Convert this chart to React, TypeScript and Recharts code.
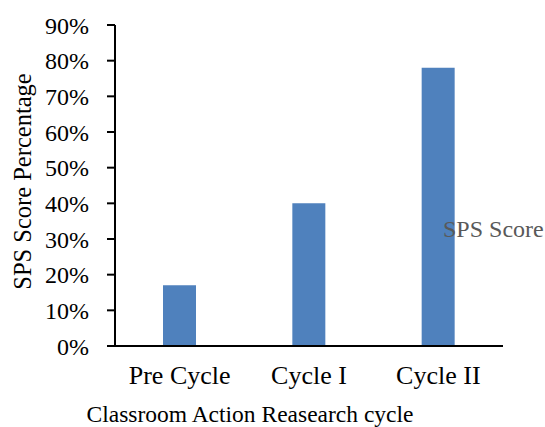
import React from 'react';
import { Bar, BarChart, Legend, XAxis, YAxis } from 'recharts';

const categories = ['Pre Cycle', 'Cycle I', 'Cycle II'];
const spsScore = [17, 40, 78];
const yTicks = [0, 10, 20, 30, 40, 50, 60, 70, 80, 90];

const data = categories.map((name, i) => ({ name, score: spsScore[i] }));

const FONT = '"Liberation Serif", "Times New Roman", serif';

function LegendText() {
  return (
    <span style={{ fontFamily: FONT, fontSize: 24, color: '#595959', lineHeight: '28px' }}>
      SPS Score
    </span>
  );
}

export default function App() {
  return (
    <div style={{ position: 'absolute', left: 0, top: 0, background: '#fff' }}>
      <BarChart
        width={545}
        height={427}
        data={data}
        margin={{ top: 25, right: 42, bottom: 0, left: 0 }}
        barSize={33}
      >
        <XAxis
          dataKey="name"
          height={81}
          tickLine={false}
          tickSize={0}
          tickMargin={20}
          axisLine={{ stroke: '#000', strokeWidth: 2 }}
          tick={{ fill: '#000', fontSize: 26, fontFamily: FONT }}
          label={{
            value: 'Classroom Action Reasearch cycle',
            position: 'insideBottom',
            offset: 5,
            dx: -59,
            style: { fill: '#000', fontSize: 23.5, fontFamily: FONT },
          }}
        />
        <YAxis
          width={115}
          domain={[0, 90]}
          ticks={yTicks}
          interval={0}
          tickFormatter={(v) => `${v}%`}
          tickSize={8}
          tickMargin={18}
          tickLine={{ stroke: '#000', strokeWidth: 2 }}
          axisLine={{ stroke: '#000', strokeWidth: 2 }}
          tick={{ fill: '#000', fontSize: 24, fontFamily: FONT }}
          label={{
            value: 'SPS Score Percentage',
            angle: -90,
            position: 'insideLeft',
            offset: 22,
            dy: -4,
            style: { textAnchor: 'middle', fill: '#000', fontSize: 24.5, fontFamily: FONT },
          }}
        />
        <Legend
          layout="vertical"
          verticalAlign="middle"
          align="center"
          content={<LegendText />}
          wrapperStyle={{ position: 'absolute', left: 443, top: 215, width: 'auto' }}
        />
        <Bar dataKey="score" name="SPS Score" fill="#4F81BD" isAnimationActive={false} />
      </BarChart>
    </div>
  );
}
